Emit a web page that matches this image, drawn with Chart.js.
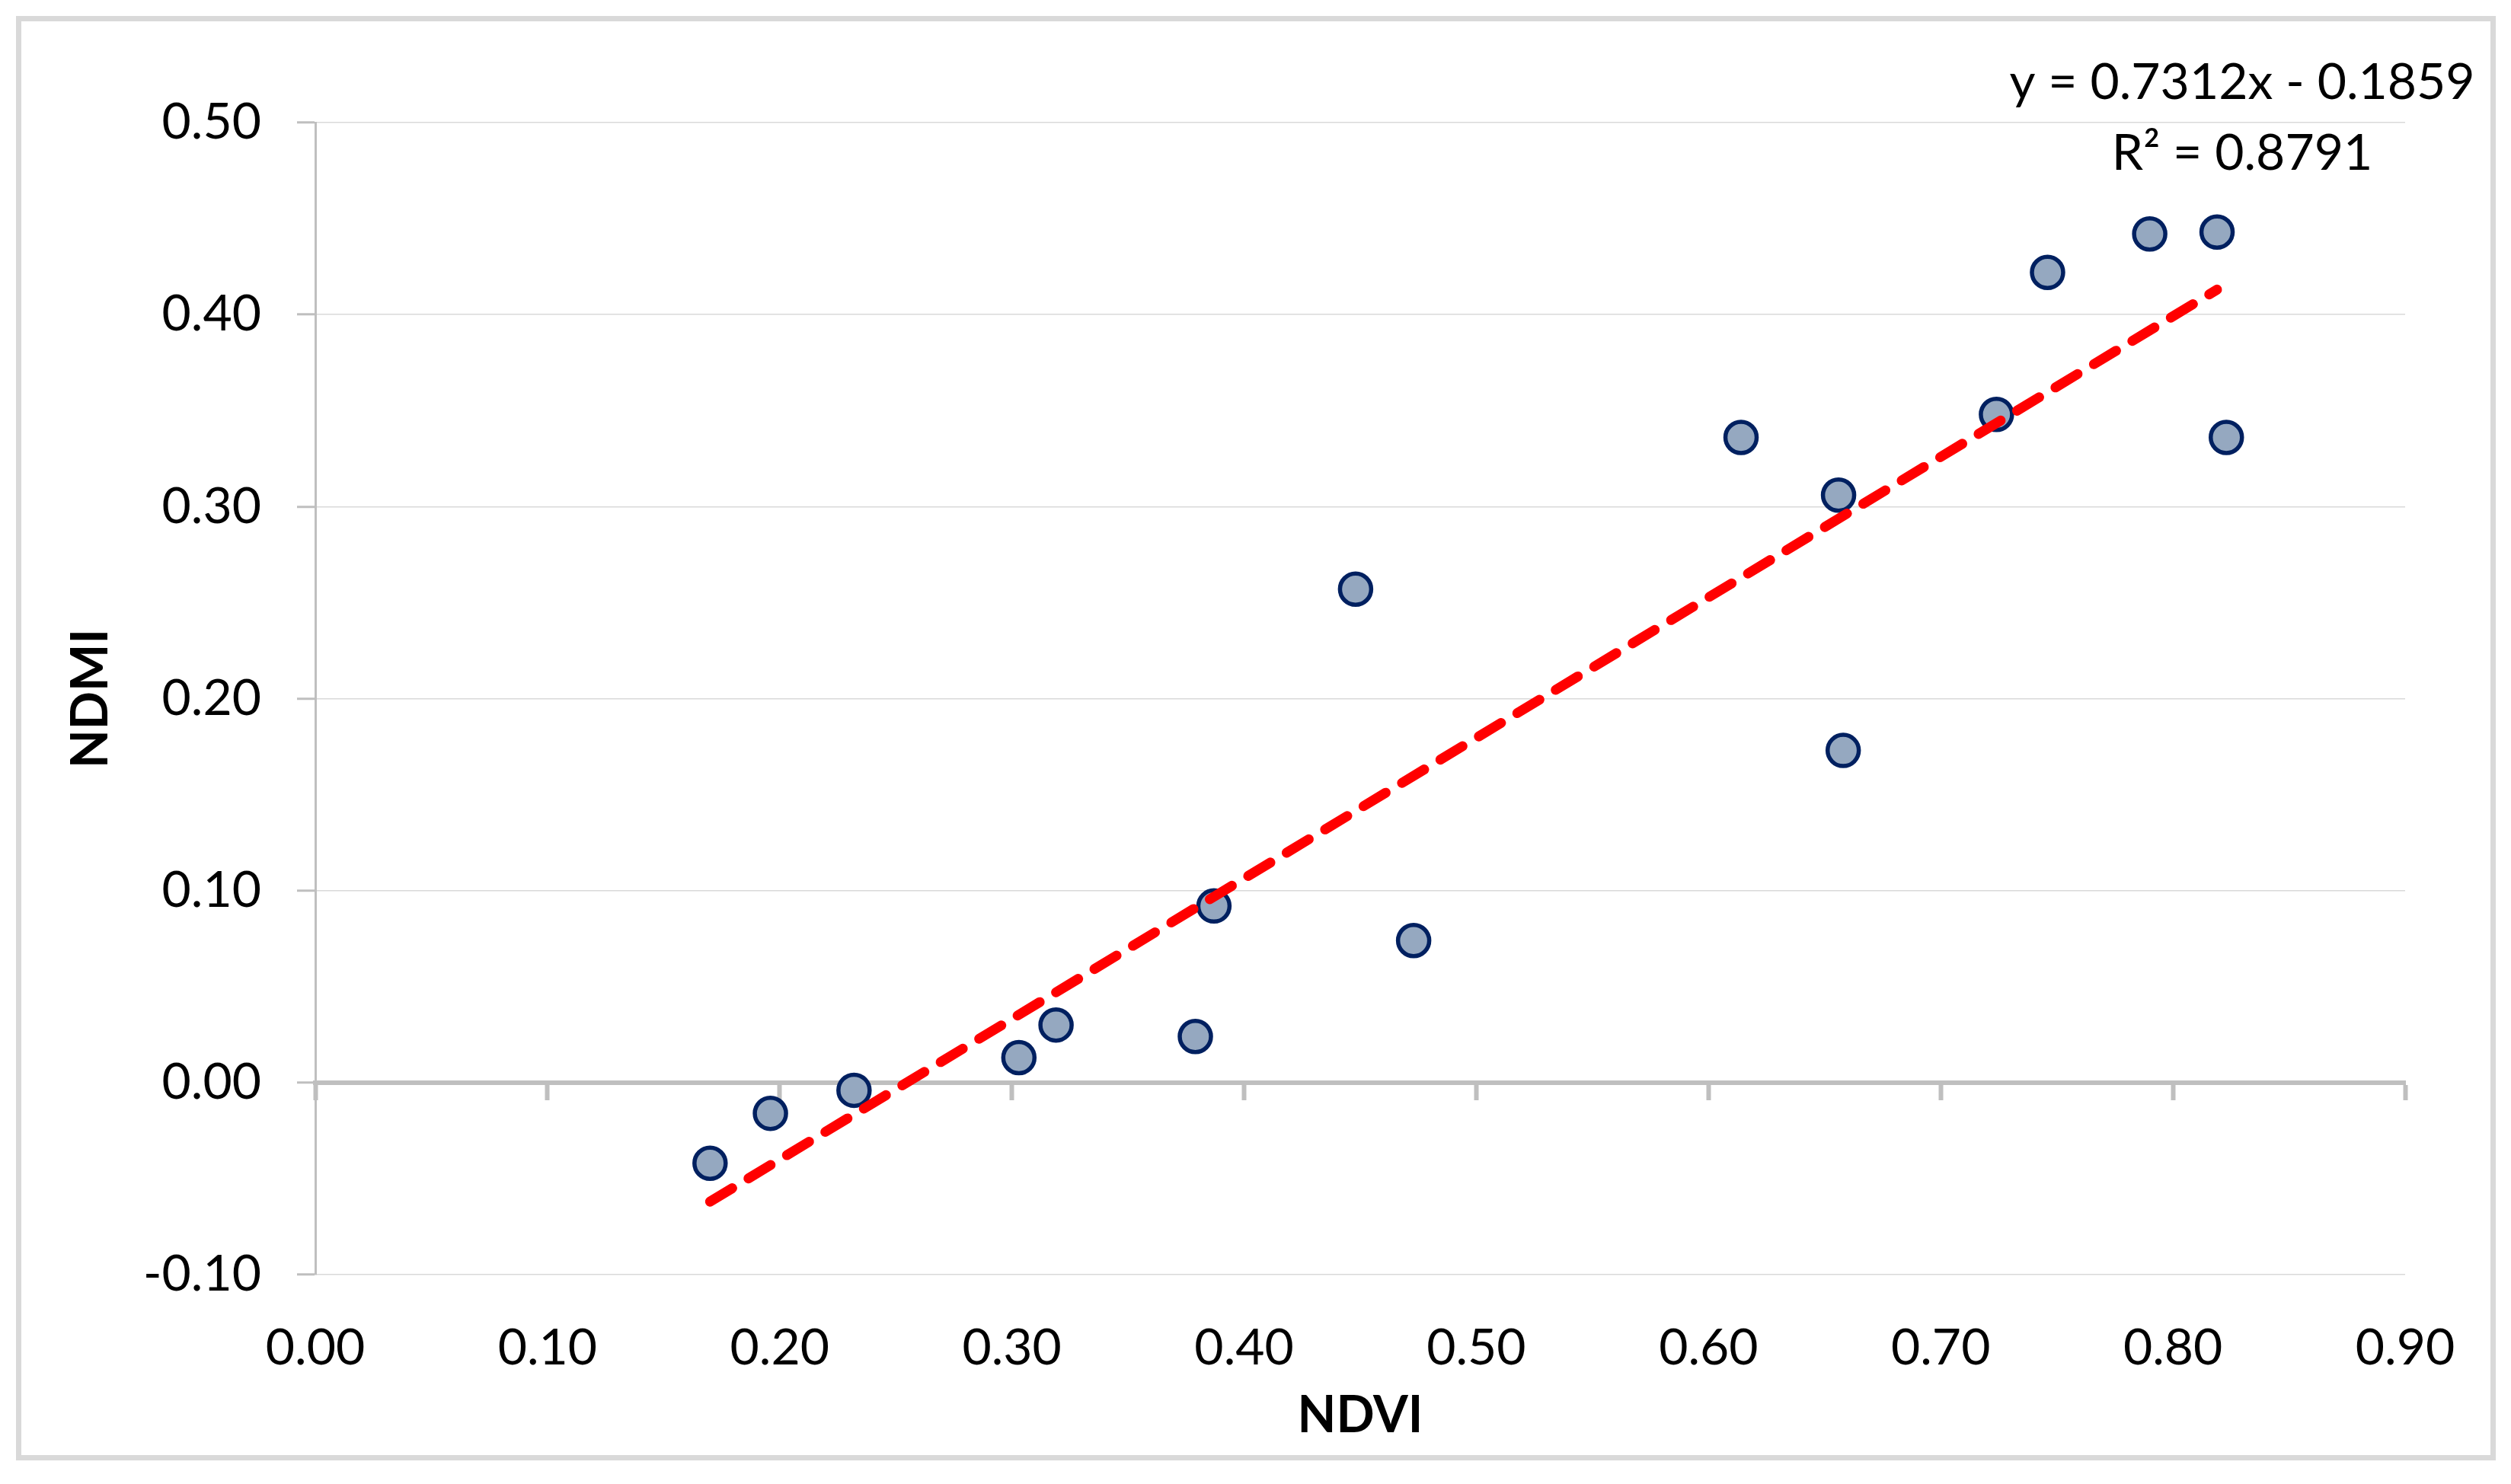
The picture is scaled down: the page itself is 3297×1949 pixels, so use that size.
<!DOCTYPE html>
<html>
<head>
    <title>NDVI vs NDMI</title>
    <script src="https://cdn.jsdelivr.net/npm/chart.js"></script>
    <style>
        body { margin: 0; background: #fff; overflow: hidden; }
        #wrap { position: relative; width: 3297px; height: 1949px; }
        #frame {
            position: absolute; left: 21px; top: 21px;
            width: 3256px; height: 1897px; box-sizing: border-box;
            border: 7px solid #d9d9d9; pointer-events: none;
        }
    </style>
</head>
<body>
    <div id="wrap">
        <canvas id="chart"></canvas>
        <div id="frame"></div>
    </div>

    <script>
        // values
        const ndvi = [0.170, 0.196, 0.232, 0.303, 0.319, 0.379, 0.387, 0.448, 0.473,
                      0.614, 0.656, 0.658, 0.724, 0.746, 0.790, 0.819, 0.823];
        const ndmi = [-0.042, -0.016, -0.004, 0.013, 0.030, 0.024, 0.092, 0.257, 0.074,
                      0.336, 0.306, 0.173, 0.348, 0.422, 0.442, 0.443, 0.336];

        // linear trendline end points
        const trendX = [0.170, 0.819];
        const trendY = [-0.062, 0.413];

        const equationLines = ['y = 0.7312x - 0.1859', 'R\u00b2 = 0.8791'];

        const xTitle = 'NDVI';
        const yTitle = 'NDMI';

        const FONT = 'Lato';

        const points = ndvi.map((x, i) => ({ x: x, y: ndmi[i] }));
        const trend = trendX.map((x, i) => ({ x: x, y: trendY[i] }));

        // 2 decimals, no "-0.00"
        const fmt = v => (Math.abs(v) < 1e-9 ? 0 : v).toFixed(2);

        // trendline equation, top right
        const equationPlugin = {
            id: 'equation',
            afterDraw(chart) {
                const ctx = chart.ctx;
                const area = chart.chartArea;
                ctx.save();
                ctx.fillStyle = '#000';
                ctx.font = '66px ' + FONT;
                ctx.textAlign = 'center';
                ctx.textBaseline = 'middle';
                const cx = area.right - 214;
                equationLines.forEach((t, i) => {
                    ctx.fillText(t, cx, area.top - 52 + i * 93);
                });
                ctx.restore();
            }
        };

        Chart.defaults.font.family = FONT;
        Chart.defaults.color = '#000';

        new Chart(document.getElementById('chart'), {
            type: 'scatter',
            data: {
                datasets: [
                    {
                        label: 'Linear',
                        type: 'line',
                        data: trend,
                        order: 0,
                        borderColor: '#ff0000',
                        borderWidth: 13,
                        borderDash: [34, 25],
                        borderCapStyle: 'round',
                        pointRadius: 0,
                        fill: false
                    },
                    {
                        label: 'NDMI',
                        data: points,
                        order: 1,
                        pointRadius: 20.5,
                        pointBorderWidth: 5.5,
                        backgroundColor: '#95a8c0',
                        borderColor: '#002060'
                    }
                ]
            },
            options: {
                responsive: true,
                maintainAspectRatio: false,
                devicePixelRatio: 1,
                animation: false,
                layout: { padding: { top: 161, right: 139, left: 0, bottom: 0 } },
                plugins: {
                    legend: { display: false },
                    tooltip: { enabled: false }
                },
                scales: {
                    x: {
                        type: 'linear',
                        position: 'bottom',
                        min: 0,
                        max: 0.9,
                        afterFit(scale) { scale.height = 275; },
                        grid: { display: false, drawTicks: false },
                        border: { display: false },
                        ticks: {
                            stepSize: 0.1,
                            padding: 57,
                            font: { size: 66 },
                            callback: fmt
                        },
                        title: {
                            display: true,
                            text: xTitle,
                            font: { size: 66, weight: 'bold' },
                            padding: { top: 0, bottom: 50 }
                        }
                    },
                    // horizontal axis line crossing at y = 0
                    x2: {
                        type: 'linear',
                        axis: 'x',
                        position: { y: 0 },
                        min: 0,
                        max: 0.9,
                        grid: {
                            drawOnChartArea: false,
                            drawTicks: true,
                            tickLength: 20,
                            tickWidth: 6,
                            tickColor: '#bfbfbf'
                        },
                        border: { color: '#bfbfbf', width: 6 },
                        ticks: { stepSize: 0.1, display: false }
                    },
                    y: {
                        type: 'linear',
                        position: 'left',
                        min: -0.1,
                        max: 0.5,
                        afterFit(scale) { scale.width = 414; },
                        grid: {
                            color: '#d9d9d9',
                            lineWidth: 1.5,
                            tickLength: 24,
                            tickWidth: 3,
                            tickColor: '#bfbfbf'
                        },
                        border: { color: '#bfbfbf', width: 3 },
                        ticks: {
                            stepSize: 0.1,
                            padding: 47,
                            font: { size: 66 },
                            callback: fmt
                        },
                        title: {
                            display: true,
                            text: yTitle,
                            font: { size: 66, weight: 'bold' },
                            padding: { top: 80, bottom: 0 }
                        }
                    }
                }
            },
            plugins: [equationPlugin]
        });
    </script>
</body>
</html>
